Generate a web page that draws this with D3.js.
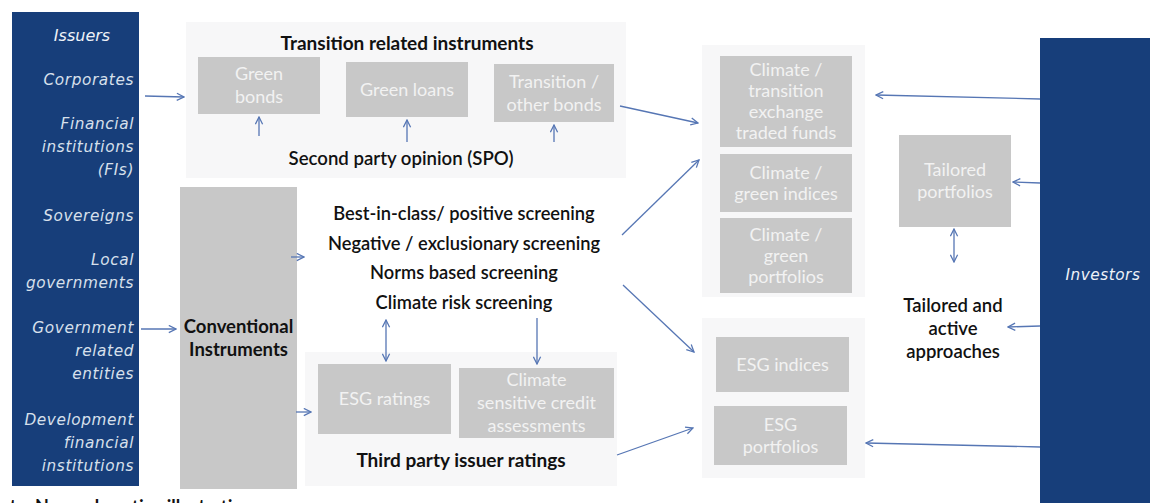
<!DOCTYPE html>
<html>
<head>
<meta charset="utf-8">
<script src="https://cdn.jsdelivr.net/npm/d3@7"></script>
<style>
  html, body { margin: 0; padding: 0; background: #fff; }
  svg { display: block; }
</style>
</head>
<body>
<div id="chart"></div>
<script>
// labels
// --------------------------------------------------------
const issuers = [
    ["Corporates"],
    ["Financial", "institutions", "(FIs)"],
    ["Sovereigns"],
    ["Local", "governments"],
    ["Government", "related", "entities"],
    ["Development", "financial", "institutions"]
];
const issuerTop = [80, 124, 216, 260, 328, 420];

const transitionBoxes = [["Green", "bonds"], ["Green loans"], ["Transition /", "other bonds"]];
const screenings = [
    "Best-in-class/ positive screening",
    "Negative / exclusionary screening",
    "Norms based screening",
    "Climate risk screening"
];
const ratingBoxes = [["ESG ratings"], ["Climate", "sensitive credit", "assessments"]];
const climateProducts = [
    ["Climate /", "transition", "exchange", "traded funds"],
    ["Climate /", "green indices"],
    ["Climate /", "green", "portfolios"]
];
const esgProducts = [["ESG indices"], ["ESG", "portfolios"]];
const tailored = ["Tailored", "portfolios"];
const approaches = ["Tailored and", "active", "approaches"];

const width = 1150, height = 503;
const navy = "#173e7a", boxGrey = "#c8c8c8", arrowBlue = "#5676b4";
const sans = "Lato, 'Open Sans', sans-serif";

const svg = d3.select("#chart").append("svg")
    .attr("width", width)
    .attr("height", height);

svg.append("defs").append("marker")
    .attr("id", "head")
    .attr("viewBox", "0 0 10 10")
    .attr("refX", 9).attr("refY", 5)
    .attr("markerWidth", 9).attr("markerHeight", 9)
    .attr("markerUnits", "userSpaceOnUse")
    .attr("orient", "auto-start-reverse")
    .append("path")
        .attr("d", "M1,1 L9,5 L1,9")
        .attr("fill", "none")
        .attr("stroke", arrowBlue)
        .attr("stroke-width", 1.4);

// helpers
function panel(x, y, w, h) {
    svg.append("rect").attr("x", x).attr("y", y).attr("width", w).attr("height", h)
        .attr("fill", "#f7f7f8");
}

function box(x, y, w, h, lines, opts = {}) {
    svg.append("rect").attr("x", x).attr("y", y).attr("width", w).attr("height", h)
        .attr("fill", opts.fill || boxGrey);
    const lh = opts.lh || 20;
    const y0 = y + h / 2 - (lines.length - 1) * lh / 2;
    svg.append("g").selectAll("text")
        .data(lines)
        .join("text")
            .attr("x", x + w / 2)
            .attr("y", (d, i) => y0 + i * lh)
            .attr("dy", "0.35em")
            .attr("text-anchor", "middle")
            .attr("font-family", sans)
            .attr("font-size", opts.size || 18)
            .attr("font-weight", opts.weight || 400)
            .attr("fill", opts.color || "#f2f2f2")
            .text(d => d);
}

function label(x, y, lines, size, weight, lh) {
    svg.append("g").selectAll("text")
        .data(lines)
        .join("text")
            .attr("x", x)
            .attr("y", (d, i) => y + i * lh)
            .attr("dy", "0.35em")
            .attr("text-anchor", "middle")
            .attr("font-family", sans)
            .attr("font-size", size)
            .attr("font-weight", weight)
            .attr("fill", "#111")
            .text(d => d);
}

function arrow(x1, y1, x2, y2, both) {
    svg.append("line")
        .attr("x1", x1).attr("y1", y1).attr("x2", x2).attr("y2", y2)
        .attr("stroke", arrowBlue)
        .attr("stroke-width", 1.3)
        .attr("marker-end", "url(#head)")
        .attr("marker-start", both ? "url(#head)" : null);
}

// background panels
// --------------------------------------------------------
panel(186, 22, 440, 156);
panel(305, 352, 312, 134);
panel(702, 45, 163, 252);
panel(702, 318, 163, 160);

// issuers column
// --------------------------------------------------------
svg.append("rect").attr("x", 12).attr("y", 12).attr("width", 127).attr("height", 474).attr("fill", navy);
svg.append("text")
    .attr("x", 82).attr("y", 35).attr("dy", "0.35em")
    .attr("text-anchor", "middle")
    .attr("font-family", "'DejaVu Sans', sans-serif")
    .attr("font-style", "italic")
    .attr("font-size", 16)
    .attr("fill", "#eef2f8")
    .text("Issuers");

issuers.forEach((lines, k) => {
    svg.append("g").selectAll("text")
        .data(lines)
        .join("text")
            .attr("x", 134)
            .attr("y", (d, i) => issuerTop[k] + i * 23)
            .attr("dy", "0.35em")
            .attr("text-anchor", "end")
            .attr("font-family", "'DejaVu Sans', sans-serif")
            .attr("font-style", "italic")
            .attr("font-size", 15.3)
            .attr("letter-spacing", 0.6)
            .attr("fill", "#d8e0ec")
            .text(d => d);
});

// investors column
svg.append("rect").attr("x", 1040).attr("y", 38).attr("width", 110).attr("height", 465).attr("fill", navy);
svg.append("text")
    .attr("x", 1103).attr("y", 275).attr("dy", "0.35em")
    .attr("text-anchor", "middle")
    .attr("font-family", "'DejaVu Sans', sans-serif")
    .attr("font-style", "italic")
    .attr("font-size", 15.3)
    .attr("letter-spacing", 0.5)
    .attr("fill", "#eef2f8")
    .text("Investors");

// transition related instruments
// --------------------------------------------------------
label(407, 43, ["Transition related instruments"], 19, 700, 20);
const tBoxX = [198, 346, 494], tBoxY = [57, 62, 64], tBoxW = [122, 122, 120], tBoxH = [57, 55, 58];
transitionBoxes.forEach((lines, i) => box(tBoxX[i], tBoxY[i], tBoxW[i], tBoxH[i], lines, { lh: 23 }));
label(401, 158, ["Second party opinion (SPO)"], 18.6, 600, 20);
tBoxX.forEach((x, i) => arrow(x + tBoxW[i] / 2, i === 0 ? 136 : 142, x + tBoxW[i] / 2, tBoxY[i] + tBoxH[i] + 3));

// conventional instruments
// --------------------------------------------------------
box(180, 187, 117, 302, ["Conventional", "Instruments"], { color: "#111", weight: 700, size: 18.5, lh: 23 });
label(464, 214, screenings, 18.3, 600, 29.5);
arrow(291, 257, 304, 257);

const rBoxX = [318, 459], rBoxY = [364, 368], rBoxW = [133, 155], rBoxH = [70, 70];
ratingBoxes.forEach((lines, i) => box(rBoxX[i], rBoxY[i], rBoxW[i], rBoxH[i], lines, { lh: 23 }));
label(461, 460, ["Third party issuer ratings"], 19, 700, 20);
arrow(296, 412, 311, 412);
arrow(386, 320, 386, 361, true);
arrow(537, 318, 537, 364);

// products
// --------------------------------------------------------
const cBoxY = [56, 154, 218], cBoxH = [91, 58, 75];
climateProducts.forEach((lines, i) => box(720, cBoxY[i], 132, cBoxH[i], lines, { lh: 21 }));
const eBoxX = [716, 714], eBoxY = [337, 406], eBoxH = [55, 59];
esgProducts.forEach((lines, i) => box(eBoxX[i], eBoxY[i], 133, eBoxH[i], lines, { lh: 22 }));

box(899, 135, 112, 92, tailored, { lh: 22 });
label(953, 306, approaches, 18.5, 600, 23);

// flows
// --------------------------------------------------------
arrow(145, 96, 184, 97);
arrow(141, 329, 176, 329);
arrow(620, 106, 698, 123);
arrow(622, 235, 699, 160);
arrow(623, 285, 694, 352);
arrow(617, 455, 693, 428);

arrow(1040, 99, 876, 95);
arrow(1040, 183, 1013, 182);
arrow(954, 229, 954, 262, true);
arrow(1040, 326, 1008, 327);
arrow(1040, 447, 866, 443);

// footnote, cut off by the page edge
svg.append("text")
    .attr("x", -14).attr("y", 513)
    .attr("font-family", sans)
    .attr("font-size", 18)
    .attr("font-weight", 700)
    .attr("fill", "#111")
    .text("Note: Non-exhaustive illustration.");
</script>
</body>
</html>
